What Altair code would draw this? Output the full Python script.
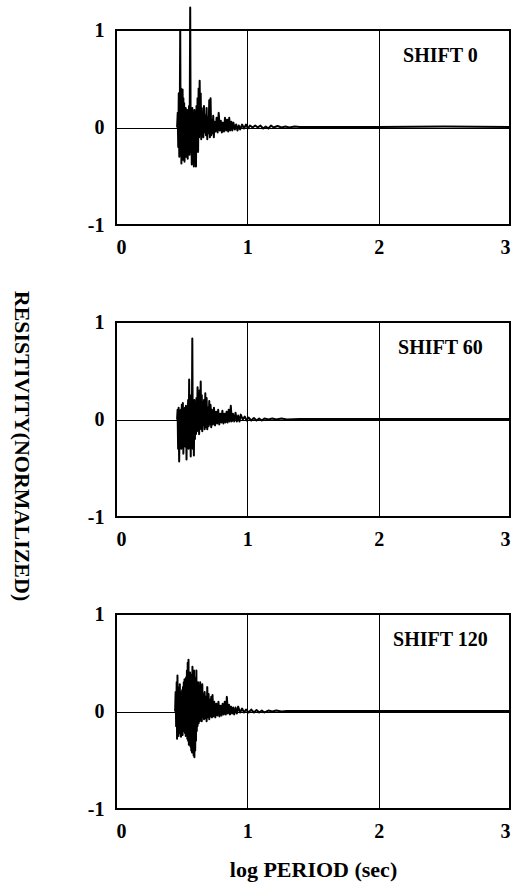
import altair as alt
import pandas as pd

# ---- data ----
x_shift0 = [0.465, 0.470, 0.474, 0.478, 0.482, 0.486, 0.489, 0.492, 0.495, 0.498, 0.501, 0.504, 0.507, 0.510,
            0.513, 0.516, 0.519, 0.522, 0.525, 0.528, 0.531, 0.534, 0.537, 0.540, 0.543, 0.546, 0.549, 0.552,
            0.556, 0.560, 0.565, 0.569, 0.573, 0.577, 0.581, 0.585, 0.589, 0.593, 0.597, 0.601, 0.605, 0.609,
            0.613, 0.617, 0.621, 0.625, 0.629, 0.633, 0.637, 0.641, 0.645, 0.649, 0.653, 0.657, 0.661, 0.665,
            0.670, 0.675, 0.680, 0.685, 0.690, 0.695, 0.700, 0.705, 0.710, 0.715, 0.720, 0.725, 0.730, 0.735,
            0.740, 0.745, 0.750, 0.758, 0.766, 0.774, 0.782, 0.790, 0.798, 0.806, 0.814, 0.822, 0.830, 0.838,
            0.846, 0.854, 0.862, 0.870, 0.878, 0.886, 0.894, 0.905, 0.915, 0.925, 0.935, 0.945, 0.960, 0.975,
            0.990, 1.005, 1.020, 1.040, 1.060, 1.080, 1.100, 1.120, 1.140, 1.160, 1.180, 1.200, 1.230, 1.260,
            1.290, 1.320, 1.360, 1.400, 1.500, 2.000, 2.500, 3.000]
y_shift0 = [0.0, 0.15, -0.2, 0.35, -0.3, 0.2, 1.0, -0.1, 0.4, -0.37, 0.38, -0.25, 0.39, -0.33,
            0.3, -0.2, 0.25, -0.35, 0.15, -0.15, 0.2, -0.3, 0.1, -0.22, 0.18, -0.32, 0.12, -0.2,
            0.22, -0.28, 1.23, -0.25, 0.15, -0.38, 0.2, -0.3, 0.12, -0.4, 0.18, -0.35, 0.15, -0.4,
            0.22, -0.2, 0.3, -0.25, 0.4, -0.1, 0.48, -0.05, 0.35, -0.12, 0.2, -0.08, 0.15, -0.1,
            0.22, -0.05, 0.12, -0.08, 0.2, -0.12, 0.1, -0.06, 0.28, -0.1, 0.3, -0.08, 0.08, -0.06,
            0.12, -0.1, 0.06, -0.04, 0.1, -0.05, 0.15, -0.03, 0.07, -0.05, 0.05, -0.04, 0.1, -0.03,
            0.08, -0.04, 0.1, -0.03, 0.06, -0.03, 0.05, -0.02, 0.03, -0.03, 0.02, -0.02, 0.03, -0.01,
            0.03, -0.01, 0.02, 0.0, 0.02, 0.0, 0.02, -0.01, 0.01, -0.01, 0.02, 0.0, 0.015, 0.0,
            0.01, 0.0, 0.01, 0.005, 0.005, 0.005, 0.01, 0.005]

x_shift60 = [0.465, 0.469, 0.473, 0.477, 0.481, 0.485, 0.489, 0.493, 0.497, 0.501, 0.505, 0.509, 0.513, 0.517,
             0.521, 0.525, 0.529, 0.533, 0.537, 0.541, 0.545, 0.549, 0.553, 0.557, 0.561, 0.565, 0.569, 0.573,
             0.577, 0.581, 0.585, 0.589, 0.593, 0.597, 0.601, 0.605, 0.609, 0.613, 0.617, 0.621, 0.625, 0.629,
             0.633, 0.637, 0.641, 0.645, 0.649, 0.653, 0.657, 0.661, 0.665, 0.670, 0.675, 0.680, 0.685, 0.690,
             0.695, 0.700, 0.705, 0.710, 0.715, 0.720, 0.725, 0.730, 0.738, 0.746, 0.754, 0.762, 0.770, 0.778,
             0.786, 0.794, 0.802, 0.810, 0.818, 0.826, 0.834, 0.842, 0.850, 0.858, 0.866, 0.874, 0.882, 0.890,
             0.900, 0.910, 0.920, 0.930, 0.940, 0.950, 0.965, 0.980, 0.995, 1.010, 1.030, 1.050, 1.070, 1.090,
             1.110, 1.130, 1.160, 1.190, 1.220, 1.260, 1.300, 1.400, 2.000, 3.000]
y_shift60 = [0.0, 0.1, -0.3, 0.12, -0.43, 0.08, -0.2, 0.1, -0.3, 0.15, -0.25, 0.17, -0.35, 0.1,
             -0.18, 0.12, -0.28, 0.14, -0.41, 0.1, -0.22, 0.2, -0.3, 0.41, -0.15, 0.25, -0.38, 0.15,
             -0.2, 0.83, -0.3, 0.1, -0.37, 0.2, -0.2, 0.15, -0.15, 0.22, -0.12, 0.33, -0.1, 0.2,
             -0.15, 0.3, -0.08, 0.39, -0.1, 0.25, -0.12, 0.18, -0.06, 0.2, -0.1, 0.27, -0.08, 0.22,
             -0.1, 0.12, -0.07, 0.19, -0.05, 0.15, -0.08, 0.1, -0.05, 0.12, -0.06, 0.08, -0.04, 0.1,
             -0.05, 0.06, -0.03, 0.09, -0.04, 0.06, -0.03, 0.08, -0.03, 0.1, -0.02, 0.14, -0.02, 0.06,
             -0.02, 0.07, -0.02, 0.04, -0.02, 0.05, 0.0, 0.03, -0.01, 0.02, -0.01, 0.015, -0.01, 0.01,
             -0.01, 0.01, 0.0, 0.01, 0.0, 0.01, 0.0, 0.005, 0.005, 0.005]

x_shift120 = [0.450, 0.454, 0.458, 0.462, 0.465, 0.468, 0.471, 0.474, 0.477, 0.480, 0.483, 0.486, 0.489, 0.492,
              0.495, 0.498, 0.501, 0.504, 0.507, 0.510, 0.513, 0.516, 0.519, 0.522, 0.525, 0.528, 0.531, 0.534,
              0.537, 0.540, 0.543, 0.546, 0.549, 0.552, 0.555, 0.558, 0.561, 0.564, 0.567, 0.570, 0.573, 0.576,
              0.579, 0.582, 0.585, 0.588, 0.591, 0.594, 0.597, 0.600, 0.603, 0.606, 0.609, 0.612, 0.615, 0.618,
              0.621, 0.625, 0.629, 0.633, 0.637, 0.641, 0.645, 0.649, 0.653, 0.657, 0.661, 0.665, 0.670, 0.675,
              0.680, 0.685, 0.690, 0.695, 0.700, 0.705, 0.710, 0.715, 0.720, 0.725, 0.730, 0.735, 0.740, 0.748,
              0.756, 0.764, 0.772, 0.780, 0.788, 0.796, 0.804, 0.812, 0.820, 0.828, 0.836, 0.844, 0.852, 0.860,
              0.868, 0.876, 0.884, 0.892, 0.900, 0.910, 0.920, 0.930, 0.945, 0.960, 0.975, 0.990, 1.010, 1.030,
              1.050, 1.070, 1.090, 1.110, 1.130, 1.160, 1.190, 1.220, 1.260, 1.300, 1.500, 2.000, 3.000]
y_shift120 = [0.0, 0.2, -0.15, 0.3, -0.28, 0.37, -0.2, 0.25, -0.25, 0.2, -0.22, 0.28, -0.18, 0.2,
              -0.26, 0.15, -0.2, 0.22, -0.24, 0.25, -0.15, 0.3, -0.2, 0.33, -0.22, 0.2, -0.25, 0.35,
              -0.2, 0.42, -0.28, 0.5, -0.3, 0.53, -0.34, 0.35, -0.3, 0.4, -0.36, 0.3, -0.4, 0.38,
              -0.42, 0.46, -0.38, 0.3, -0.45, 0.42, -0.47, 0.35, -0.4, 0.2, -0.3, 0.42, -0.2, 0.25,
              -0.15, 0.3, -0.12, 0.22, -0.1, 0.3, -0.08, 0.2, -0.1, 0.28, -0.06, 0.18, -0.08, 0.2,
              -0.07, 0.15, -0.1, 0.25, -0.06, 0.18, -0.08, 0.12, -0.05, 0.15, -0.06, 0.17, -0.05, 0.1,
              -0.06, 0.08, -0.04, 0.1, -0.05, 0.06, -0.04, 0.08, -0.03, 0.1, -0.03, 0.15, -0.02, 0.07,
              -0.03, 0.05, -0.02, 0.04, -0.03, 0.04, -0.02, 0.05, -0.01, 0.03, -0.01, 0.02, -0.01, 0.02,
              -0.01, 0.015, -0.01, 0.01, -0.01, 0.01, 0.0, 0.01, 0.0, 0.005, 0.005, 0.005, 0.005]

panel_labels = ["SHIFT 0", "SHIFT 60", "SHIFT 120"]
label_pos_x = [2.47, 2.47, 2.47]
label_pos_y = [0.73, 0.73, 0.73]
x_ticks = [0, 1, 2, 3]
y_ticks = [-1, 0, 1]
x_title = "log PERIOD (sec)"
y_title = "RESISTIVITY(NORMALIZED)"

FONT = "Liberation Serif"
W, H = 394, 195


def panel(xs, ys, idx, last):
    df = pd.DataFrame({"x": xs, "y": ys})
    xenc = alt.X("x:Q", scale=alt.Scale(domain=[0, 3], nice=False, zero=False),
                 axis=alt.Axis(values=x_ticks, format="d", title=x_title if last else None,
                               titleFont=FONT, titleFontSize=22, titleFontWeight="bold",
                               titlePadding=18, titleColor="black"))
    yenc = alt.Y("y:Q", scale=alt.Scale(domain=[-1, 1], nice=False),
                 axis=alt.Axis(values=y_ticks, title=None,
                               labelExpr="datum.value < 0 ? '-' + toString(-datum.value) : toString(datum.value)"))
    line = alt.Chart(df).mark_line(color="black", strokeWidth=2, strokeJoin="round").encode(x=xenc, y=yenc)
    lab = pd.DataFrame({"x": [label_pos_x[idx]], "y": [label_pos_y[idx]], "t": [panel_labels[idx]]})
    txt = alt.Chart(lab).mark_text(font=FONT, fontSize=20, fontWeight="bold", color="black",
                                   align="center", baseline="middle").encode(x="x:Q", y="y:Q", text="t:N")
    layers = [line, txt]
    if idx == 1:
        yt = pd.DataFrame({"t": [y_title]})
        ytxt = alt.Chart(yt).mark_text(font=FONT, fontSize=22, fontWeight="bold", color="black",
                                       angle=90, align="center", baseline="middle").encode(
            x=alt.value(-94), y=alt.value(124), text="t:N")
        layers.append(ytxt)
    return alt.layer(*layers).properties(width=W, height=H)


chart = alt.vconcat(
    panel(x_shift0, y_shift0, 0, False),
    panel(x_shift60, y_shift60, 1, False),
    panel(x_shift120, y_shift120, 2, True),
    spacing=97,
    bounds="flush",
).properties(
    padding={"left": 9, "top": 5, "right": 5, "bottom": 5},
    background="white",
).configure_view(
    stroke="black", strokeWidth=2
).configure_axis(
    labelFont=FONT, labelFontSize=20, labelFontWeight="bold", labelColor="black",
    labelPadding=12, ticks=False, domain=False,
    grid=True, gridColor="black", gridOpacity=1, gridWidth=1
)

chart.save("out.html", embed_options={"renderer": "svg", "actions": False})
